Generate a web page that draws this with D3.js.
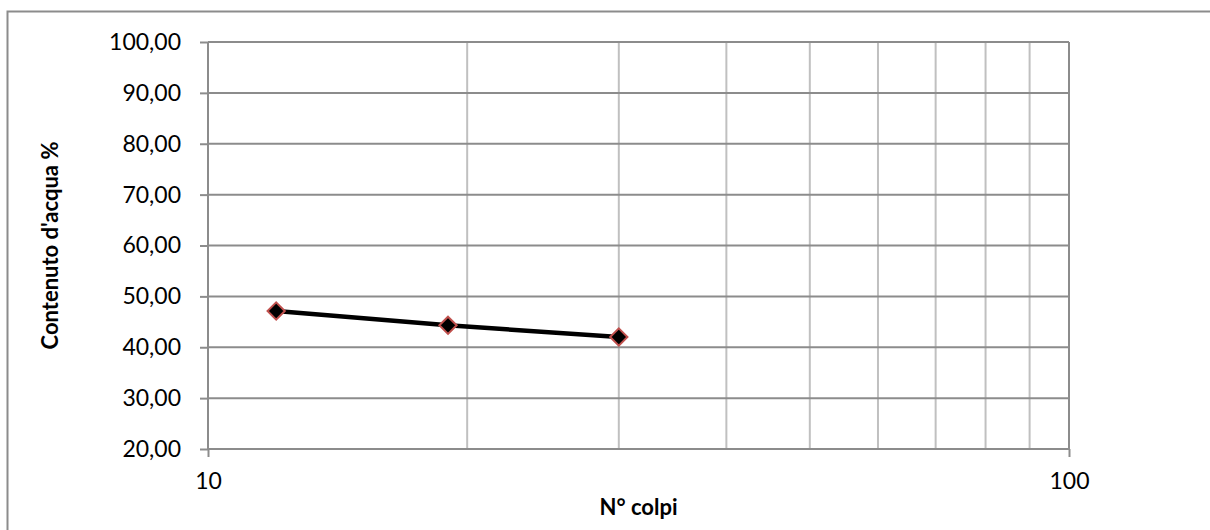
<!DOCTYPE html>
<html>
<head>
<meta charset="utf-8">
<script src="https://cdn.jsdelivr.net/npm/d3@7"></script>
<style>
  html, body { margin: 0; padding: 0; background: #fff; }
  svg { display: block; font-family: Lato, "Open Sans", sans-serif; }
</style>
</head>
<body>
<svg id="chart"></svg>
<script>
// Limiti di Atterberg - curva di fluidità
const colpi = [12, 19, 30];
const contenutoAcqua = [47.13, 44.31, 42.02];
const yTicks = [20, 30, 40, 50, 60, 70, 80, 90, 100];
const xMajor = [10, 100];
const xMinor = [20, 30, 40, 50, 60, 70, 80, 90];

const width = 1210, height = 530;
const margin = { top: 42, right: 141, bottom: 81, left: 208 };

const svg = d3.select('#chart').attr('width', width).attr('height', height);

// outer chart frame (right/bottom edges fall outside the picture)
svg.append('rect')
  .attr('x', 7.5).attr('y', 11.5).attr('width', 1220).attr('height', 540)
  .attr('fill', 'none').attr('stroke', '#8c8c8c').attr('stroke-width', 2);

const x = d3.scaleLog().domain([10, 100]).range([margin.left, width - margin.right]);
const y = d3.scaleLinear().domain([20, 100]).range([height - margin.bottom, margin.top]);

const g = svg.append('g');

// vertical minor gridlines
g.selectAll('.vgrid').data(xMinor).join('line')
  .attr('x1', d => x(d)).attr('x2', d => x(d))
  .attr('y1', y(100)).attr('y2', y(20))
  .attr('stroke', '#c0c0c0').attr('stroke-width', 2);

// horizontal gridlines
g.selectAll('.hgrid').data(yTicks).join('line')
  .attr('x1', x(10)).attr('x2', x(100))
  .attr('y1', d => y(d)).attr('y2', d => y(d))
  .attr('stroke', '#8c8c8c').attr('stroke-width', 2);

// right border of plot area
g.append('line')
  .attr('x1', x(100)).attr('x2', x(100)).attr('y1', y(100)).attr('y2', y(20))
  .attr('stroke', '#8c8c8c').attr('stroke-width', 2);

// Y axis
const yAxis = d3.axisLeft(y).tickValues(yTicks).tickSize(8).tickPadding(19)
  .tickFormat(d => d3.format('.2f')(d).replace('.', ','));
g.append('g').attr('transform', `translate(${x(10)},0)`).call(yAxis)
  .call(s => s.selectAll('.domain, .tick line').attr('stroke', '#8c8c8c').attr('stroke-width', 2))
  .call(s => s.select('.domain').attr('d', `M0,${y(100)}V${y(20)}`))
  .call(s => s.selectAll('text').attr('fill', '#000').attr('font-size', '23px')
    .attr('font-family', 'Lato, sans-serif'));

// X axis (log, only decades labelled)
const xAxis = d3.axisBottom(x).tickValues(xMajor).tickSize(8).tickPadding(16)
  .tickFormat(d3.format('d'));
g.append('g').attr('transform', `translate(0,${y(20)})`).call(xAxis)
  .call(s => s.selectAll('.domain, .tick line').attr('stroke', '#8c8c8c').attr('stroke-width', 2))
  .call(s => s.select('.domain').attr('d', `M${x(10)},0H${x(100)}`))
  .call(s => s.selectAll('text').attr('fill', '#000').attr('font-size', '23px')
    .attr('font-family', 'Lato, sans-serif'));

// data line
const pts = colpi.map((c, i) => ({ c, w: contenutoAcqua[i] }));
g.append('path').datum(pts)
  .attr('fill', 'none').attr('stroke', '#000').attr('stroke-width', 4.5)
  .attr('d', d3.line().x(d => x(d.c)).y(d => y(d.w)));

// diamond markers
g.selectAll('.pt').data(pts).join('path')
  .attr('transform', d => `translate(${x(d.c)},${y(d.w)})`)
  .attr('d', d3.symbol(d3.symbolDiamond2, 190))
  .attr('fill', '#000').attr('stroke', '#c0504d').attr('stroke-width', 2);

// axis titles
svg.append('text')
  .attr('x', (x(10) + x(100)) / 2).attr('y', 515)
  .attr('text-anchor', 'middle').attr('font-size', '22px').attr('font-weight', 'bold')
  .text('N° colpi');

svg.append('text')
  .attr('transform', `translate(58,${(y(20) + y(100)) / 2}) rotate(-90)`)
  .attr('text-anchor', 'middle').attr('font-size', '22px').attr('font-weight', 'bold')
  .text("Contenuto d'acqua %");
</script>
</body>
</html>
